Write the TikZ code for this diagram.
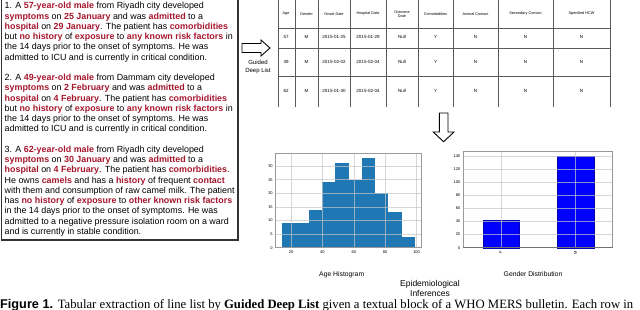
\documentclass[tikz,border=0pt]{standalone}
\usepackage{fontspec}
\setmainfont{Liberation Sans}
\newfontfamily\capserif{Liberation Serif}
\usetikzlibrary{positioning}
\definecolor{mersred}{RGB}{165,22,45}
\definecolor{histblue}{RGB}{31,119,180}
\definecolor{rulegray}{RGB}{90,90,90}
\newcommand{\kw}[1]{\textbf{\textcolor{mersred}{#1}}}

\begin{document}
\begin{tikzpicture}[x=1pt,y=-1pt,
bulletin/.style={align=left,inner sep=0pt,font=\fontsize{8.9}{10.25}\selectfont},
cell/.style={align=center,inner sep=0pt,font=\fontsize{4.5}{5.2}\selectfont},
tick/.style={inner sep=0.6pt,font=\fontsize{4}{4.8}\selectfont},
title/.style={inner sep=0pt,font=\fontsize{6.8}{8}\selectfont},
rule/.style={draw=rulegray,line width=0.8pt},
grid/.style={draw=gray!45,line width=0.5pt,opacity=0.7},
axis/.style={draw=gray!80,line width=0.6pt},
hollow/.style={draw,line width=0.9pt,fill=white,line join=miter}]
\useasboundingbox (0,0) rectangle (640,310);
\draw[draw=black!80,line width=1.2pt] (1.5,-2) rectangle (238,240);
\node[bulletin,anchor=north west] (bulletin) at (4.5,2.3) {%
1. A \kw{57-year-old male} from Riyadh city developed\\
\kw{symptoms} on \kw{25 January} and was \kw{admitted} to a\\
\kw{hospital} on \kw{29 January}. The patient has \kw{comorbidities}\\
but \kw{no history} of \kw{exposure} to \kw{any known risk factors} in\\
the 14 days prior to the onset of symptoms. He was\\
admitted to ICU and is currently in critical condition.\\[10.25pt]
2. A \kw{49-year-old male} from Dammam city developed\\
\kw{symptoms} on \kw{2 February} and was \kw{admitted} to a\\
\kw{hospital} on \kw{4 February}. The patient has \kw{comorbidities}\\
but \kw{no history} of \kw{exposure} to \kw{any known risk factors} in\\
the 14 days prior to the onset of symptoms. He was\\
admitted to ICU and is currently in critical condition.\\[10.25pt]
3. A \kw{62-year-old male} from Riyadh city developed\\
\kw{symptoms} on \kw{30 January} and was \kw{admitted} to a\\
\kw{hospital} on \kw{4 February}. The patient has \kw{comorbidities}.\\
He owns \kw{camels} and has a \kw{history} of frequent \kw{contact}\\
with them and consumption of raw camel milk. The patient\\
has \kw{no history} of \kw{exposure} to \kw{other known risk factors}\\
in the 14 days prior to the onset of symptoms. He was\\
admitted to a negative pressure isolation room on a ward\\
and is currently in stable condition.};
% guided deep list
\draw[hollow] (242,43.5) -- (261,43.5) -- (261,40) -- (270,48) -- (261,56) -- (261,52.5) -- (242,52.5) -- cycle;
\node[align=center,inner sep=0pt,font=\fontsize{6}{8.6}\selectfont] (gdl) at (258,67) {Guided\\Deep List};
% line list table
\foreach \x in {278,295,318,350,386,418,453,498,553,610}
  \draw[rule] (\x,-1) -- (\x,107);
\foreach \y in {28,48,76}
  \draw[rule] (278,\y) -- (610,\y);
\foreach \c/\t [count=\i] in {286/Age,306.5/Gender,334/Onset Date,368/Hospital Date,402/{Outcome\\Date},
  435.5/Comorbidities,475.5/Animal Contact,525.5/Secondary Contact,581.5/Specified HCW}
  \node[cell,font=\fontsize{3.8}{4.6}\selectfont] (h\i) at (\c,14) {\t};
\foreach \r/\y/\a/\o/\p in {1/37/57/2015-01-25/2015-01-29,2/62/49/2015-02-02/2015-02-04,3/91/62/2015-01-30/2015-02-04}{
  \node[cell] (age\r) at (286,\y) {\a};
  \node[cell] (sex\r) at (306.5,\y) {M};
  \node[cell] (onset\r) at (334,\y) {\o};
  \node[cell] (hosp\r) at (368,\y) {\p};
  \node[cell] (out\r) at (402,\y) {Null};
  \node[cell] (comorb\r) at (435.5,\y) {Y};
  \node[cell] (animal\r) at (475.5,\y) {N};
  \node[cell] (second\r) at (525.5,\y) {N};
  \node[cell] (hcw\r) at (581.5,\y) {N};
}
\draw[hollow] (439.3,113) -- (448,113) -- (448,132) -- (454,132) -- (443.6,141.7) -- (433.2,132) -- (439.3,132) -- cycle;
% age histogram
\foreach \h [count=\i from 0] in {9,9,14,24,31,25,33,20,13,4}
  \fill[histblue] ({282.3+13.27*\i},247.7) rectangle ++(13.27,{-2.72*\h});
\foreach \a in {20,40,...,100}{
  \draw[grid] ({291+1.57*(\a-20)},153.3) -- ++(0,94.4);
  \node[tick,anchor=north] (ax\a) at ({291+1.57*(\a-20)},249.5) {\a};
}
\foreach \v in {0,5,...,30}{
  \draw[grid] (275,{247.7-2.72*\v}) -- (421.7,{247.7-2.72*\v});
  \node[tick,anchor=east] (ay\v) at (273.5,{247.7-2.72*\v}) {\v};
}
\draw[axis] (275,153.3) rectangle (421.7,247.7);
\node[title] (agehist) at (341.7,274.5) {Age Histogram};
% gender distribution
\fill[blue,draw=blue!70!black,line width=0.4pt] (482.7,247.7) rectangle (519,{247.7-0.655*42});
\fill[blue,draw=blue!70!black,line width=0.4pt] (557.3,247.7) rectangle (594,{247.7-0.655*140});
\foreach \v in {0,20,...,140}{
  \draw[grid] (463,{247.7-0.655*\v}) -- (612.7,{247.7-0.655*\v});
  \node[tick,anchor=east] (gy\v) at (461,{247.7-0.655*\v}) {\v};
}
\foreach \c/\s in {500.8/F,575.6/M}{
  \draw[grid] (\c,151.7) -- (\c,247.7);
  \node[tick,anchor=east,rotate=90] (gx\s) at (\c,250) {\s};
}
\draw[axis] (463,151.7) rectangle (612.7,247.7);
\draw[draw=gray!90!black,line width=0.9pt] (463,247.7) -- (612.7,247.7);
\node[title] (gender) at (533,274.5) {Gender Distribution};
\node[align=center,inner sep=0pt,font=\fontsize{8.5}{9.6}\selectfont] (epi) at (430,288.3) {Epidemiological\\Inferences};
% caption
\node[anchor=base west,inner sep=0pt,font=\fontsize{12.7}{15}\selectfont] (caption) at (0,308.3)
  {\textbf{Figure 1.} {\capserif Tabular extraction of line list by \textbf{Guided Deep List} given a textual block of a WHO MERS bulletin. Each row in}};
\end{tikzpicture}
\end{document}
